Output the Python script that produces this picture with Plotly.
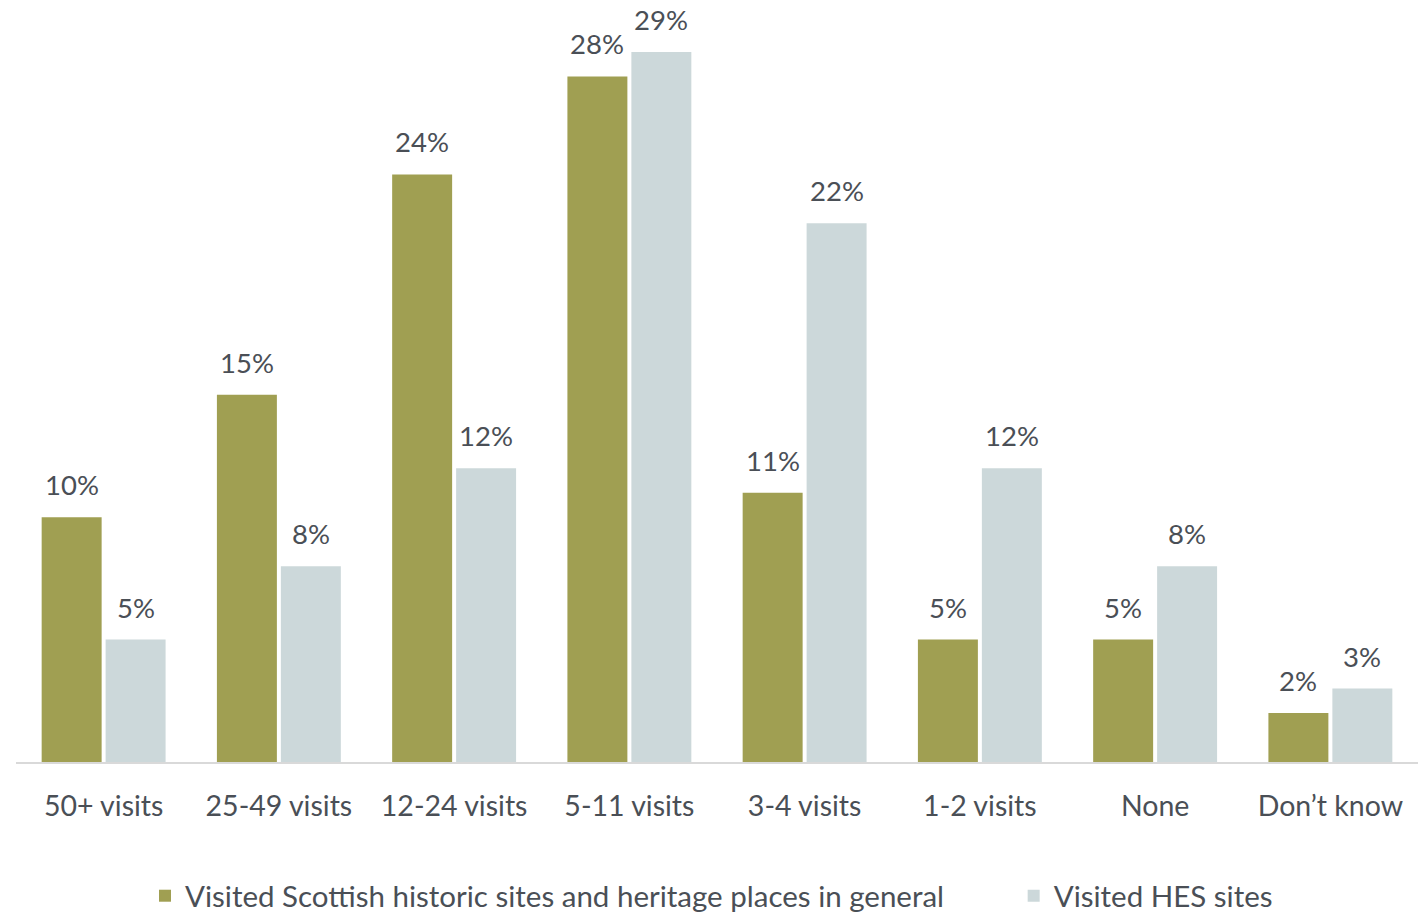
import plotly.graph_objects as go

# Frequency of visits to heritage sites
categories = ["50+ visits", "25-49 visits", "12-24 visits", "5-11 visits",
              "3-4 visits", "1-2 visits", "None", "Don\u2019t know"]
general_pct = [10, 15, 24, 28, 11, 5, 5, 2]
hes_pct = [5, 8, 12, 29, 22, 12, 8, 3]
series_names = ["Visited Scottish historic sites and heritage places in general",
                "Visited HES sites"]

OLIVE = "#A09F52"
PALE = "#CCD8DA"
TEXT = "#4A4F56"
FONT = "Lato"

fig = go.Figure()
fig.add_trace(go.Bar(x=categories, y=general_pct, name=series_names[0],
                     marker=dict(color=OLIVE, line=dict(width=0)),
                     legend="legend", hoverinfo="skip"))
fig.add_trace(go.Bar(x=categories, y=hes_pct, name=series_names[1],
                     marker=dict(color=PALE, line=dict(width=0)),
                     legend="legend2", hoverinfo="skip"))

# value labels above each bar
for vals, shift in ((general_pct, -32), (hes_pct, 32)):
    for c, v in zip(categories, vals):
        fig.add_annotation(x=c, y=v, text=f"{v}%", showarrow=False,
                           xshift=shift, yshift=14, yanchor="bottom",
                           font=dict(family=FONT, size=27.5, color=TEXT))

legend_font = dict(family=FONT, size=29.5, color=TEXT)
fig.update_layout(
    width=1428, height=912, autosize=False,
    margin=dict(l=16, r=10, t=10, b=150),
    paper_bgcolor="white", plot_bgcolor="white",
    barmode="group", bargap=0.27, bargroupgap=0.0625,
    font=dict(family=FONT, color=TEXT),
    xaxis=dict(showline=True, linecolor="#D9D9D9", linewidth=2,
               showgrid=False, ticks="", ticklabelstandoff=18,
               tickfont=dict(family=FONT, size=28.5, color=TEXT)),
    yaxis=dict(range=[0, 30.715], visible=False, showgrid=False),
    legend=dict(orientation="h", x=0.092, xanchor="left",
                yref="container", y=0.0175, yanchor="middle",
                font=legend_font, bgcolor="rgba(0,0,0,0)"),
    legend2=dict(orientation="h", x=0.7116, xanchor="left",
                 yref="container", y=0.0175, yanchor="middle",
                 font=legend_font, bgcolor="rgba(0,0,0,0)"),
    showlegend=True,
)

fig.write_html("out.html")
